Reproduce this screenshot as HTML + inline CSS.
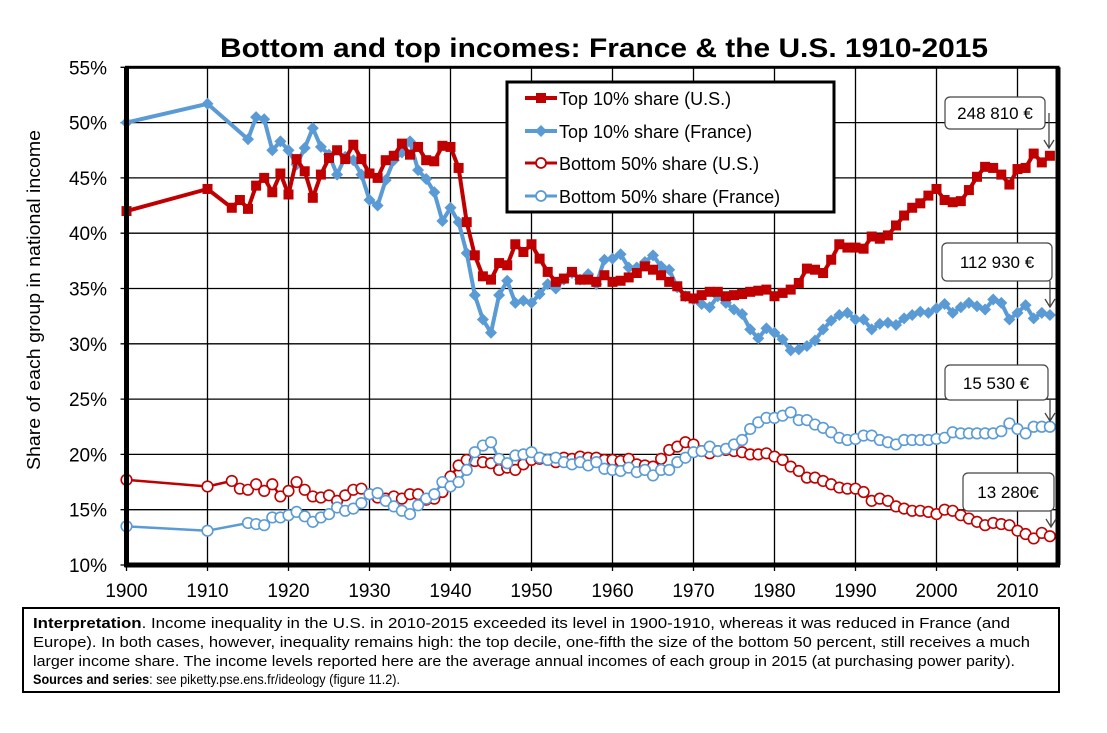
<!DOCTYPE html>
<html><head><meta charset="utf-8"><style>
body{margin:0;background:#fff;}
svg text{font-family:"Liberation Sans",Arial,sans-serif;}
</style></head><body>
<svg id="chart" width="1107" height="728" viewBox="0 0 1107 728" xmlns="http://www.w3.org/2000/svg">
<text x="220" y="57" textLength="768" lengthAdjust="spacingAndGlyphs" font-size="27" font-weight="bold">Bottom and top incomes: France &amp; the U.S. 1910-2015</text>
<text transform="translate(40,300) rotate(-90)" text-anchor="middle" font-size="18" textLength="340" lengthAdjust="spacingAndGlyphs">Share of each group in national income</text>
<g id="grid"></g>
<g id="series"></g>
<g id="axes"></g>
<g>
<rect x="507" y="82" width="327" height="130" fill="#fff" stroke="#000" stroke-width="3"/>
<line x1="525" y1="98" x2="557" y2="98" stroke="#c00000" stroke-width="4"/><rect x="536" y="93" width="10" height="10" fill="#c00000"/>
<text x="559" y="105" font-size="18">Top 10% share (U.S.)</text>
<line x1="525" y1="131" x2="557" y2="131" stroke="#5b9bd5" stroke-width="4"/><path d="M541 125 L547 131 L541 137 L535 131Z" fill="#5b9bd5"/>
<text x="559" y="138" font-size="18">Top 10% share (France)</text>
<line x1="525" y1="163" x2="557" y2="163" stroke="#c00000" stroke-width="3"/><circle cx="541" cy="163" r="5" fill="#fff" stroke="#c00000" stroke-width="1.8"/>
<text x="559" y="170" font-size="18">Bottom 50% share (U.S.)</text>
<line x1="525" y1="196" x2="557" y2="196" stroke="#5b9bd5" stroke-width="3"/><circle cx="541" cy="196" r="5" fill="#fff" stroke="#5b9bd5" stroke-width="1.8"/>
<text x="559" y="203" font-size="18">Bottom 50% share (France)</text>
</g>
<g font-size="17">
<rect x="945" y="97" width="100" height="32" rx="5" fill="#fff" stroke="#444" stroke-width="1.2"/>
<text x="995" y="119" text-anchor="middle">248 810 €</text>
<path d="M1049 113 V148 M1044 140 L1049 148 L1054 140" fill="none" stroke="#444" stroke-width="1.3"/>
<rect x="942" y="243" width="110" height="38" rx="5" fill="#fff" stroke="#444" stroke-width="1.2"/>
<text x="997" y="268" text-anchor="middle">112 930 €</text>
<path d="M1050 281 V307 M1045 299 L1050 307 L1055 299" fill="none" stroke="#444" stroke-width="1.3"/>
<rect x="945" y="365" width="103" height="35" rx="5" fill="#fff" stroke="#444" stroke-width="1.2"/>
<text x="996" y="389" text-anchor="middle">15 530 €</text>
<path d="M1050 400 V421 M1045 413 L1050 421 L1055 413" fill="none" stroke="#444" stroke-width="1.3"/>
<rect x="963" y="473" width="91" height="38" rx="5" fill="#fff" stroke="#444" stroke-width="1.2"/>
<text x="1008" y="498" text-anchor="middle">13 280€</text>
<path d="M1051 511 V527 M1046 519 L1051 527 L1056 519" fill="none" stroke="#444" stroke-width="1.3"/>
</g>
<g>
<rect x="23" y="608" width="1036" height="84" fill="#fff" stroke="#000" stroke-width="2"/>
<text x="33" y="628" font-size="15" textLength="977" lengthAdjust="spacingAndGlyphs"><tspan font-weight="bold">Interpretation</tspan>. Income inequality in the U.S. in 2010-2015 exceeded its level in 1900-1910, whereas it was reduced in France (and</text>
<text x="33" y="647" font-size="15" textLength="997" lengthAdjust="spacingAndGlyphs">Europe). In both cases, however, inequality remains high: the top decile, one-fifth the size of the bottom 50 percent, still receives a much</text>
<text x="33" y="666" font-size="15" textLength="982" lengthAdjust="spacingAndGlyphs">larger income share. The income levels reported here are the average annual incomes of each group in 2015 (at purchasing power parity).</text>
<text x="33" y="684" font-size="14" textLength="367" lengthAdjust="spacingAndGlyphs"><tspan font-weight="bold">Sources and series</tspan>: see piketty.pse.ens.fr/ideology (figure 11.2).</text>
</g>
</svg>
<script>
const years = [1900,1910,1913,1914,1915,1916,1917,1918,1919,1920,1921,1922,1923,1924,1925,1926,1927,1928,1929,1930,1931,1932,1933,1934,1935,1936,1937,1938,1939,1940,1941,1942,1943,1944,1945,1946,1947,1948,1949,1950,1951,1952,1953,1954,1955,1956,1957,1958,1959,1960,1961,1962,1963,1964,1965,1966,1967,1968,1969,1970,1971,1972,1973,1974,1975,1976,1977,1978,1979,1980,1981,1982,1983,1984,1985,1986,1987,1988,1989,1990,1991,1992,1993,1994,1995,1996,1997,1998,1999,2000,2001,2002,2003,2004,2005,2006,2007,2008,2009,2010,2011,2012,2013,2014];
const top10US = [42.0,44.0,42.3,43.0,42.2,44.3,45.0,43.7,45.4,43.5,46.7,45.6,43.2,45.3,46.8,47.5,46.7,48.0,46.7,45.4,45.0,46.6,47.0,48.1,47.1,47.8,46.6,46.5,47.9,47.8,45.9,41.0,38.0,36.1,35.8,37.3,37.1,39.0,38.3,39.0,37.7,36.5,35.6,35.9,36.5,35.8,35.8,35.6,36.2,35.6,35.7,36.0,36.4,37.0,36.7,36.2,35.6,35.2,34.3,34.1,34.4,34.7,34.7,34.3,34.4,34.5,34.7,34.8,34.9,34.3,34.6,34.9,35.5,36.8,36.7,36.4,37.6,39.0,38.7,38.7,38.6,39.7,39.5,39.8,40.7,41.6,42.3,42.7,43.4,44.0,43.0,42.8,42.9,43.9,45.1,46.0,45.9,45.3,44.4,45.8,45.9,47.2,46.4,47.0];
const yearsFR = [1900,1910,1915,1916,1917,1918,1919,1920,1921,1922,1923,1924,1925,1926,1927,1928,1929,1930,1931,1932,1933,1934,1935,1936,1937,1938,1939,1940,1941,1942,1943,1944,1945,1946,1947,1948,1949,1950,1951,1952,1953,1954,1955,1956,1957,1958,1959,1960,1961,1962,1963,1964,1965,1966,1967,1968,1969,1970,1971,1972,1973,1974,1975,1976,1977,1978,1979,1980,1981,1982,1983,1984,1985,1986,1987,1988,1989,1990,1991,1992,1993,1994,1995,1996,1997,1998,1999,2000,2001,2002,2003,2004,2005,2006,2007,2008,2009,2010,2011,2012,2013,2014];
const top10FR = [50.0,51.7,48.5,50.5,50.3,47.5,48.3,47.5,46.2,47.7,49.5,47.8,47.1,45.3,46.9,46.6,45.3,43.0,42.5,44.8,46.6,47.3,48.3,45.7,44.9,43.7,41.1,42.3,41.0,38.2,34.4,32.2,31.0,34.4,35.7,33.7,33.9,33.7,34.5,35.4,35.0,35.8,36.4,35.8,36.3,35.4,37.6,37.7,38.1,36.9,36.9,37.4,38.0,37.0,36.7,35.1,34.3,34.0,33.6,33.3,34.3,33.7,33.1,32.7,31.3,30.5,31.4,31.0,30.4,29.4,29.5,29.8,30.3,31.3,32.1,32.6,32.8,32.2,32.2,31.3,31.8,31.9,31.7,32.3,32.6,32.9,32.8,33.2,33.6,32.8,33.3,33.7,33.4,33.1,34.0,33.7,32.2,32.8,33.5,32.3,32.8,32.6];
const bottom50US = [17.7,17.1,17.6,16.9,16.8,17.3,16.7,17.3,16.2,16.7,17.5,16.8,16.2,16.1,16.3,15.8,16.3,16.8,16.9,16.4,16.1,16.0,16.2,16.0,16.4,16.4,15.9,16.0,16.6,18.0,19.0,19.5,19.4,19.3,19.2,18.6,18.8,18.6,19.1,19.5,19.6,19.5,19.3,19.7,19.6,19.8,19.7,19.7,19.5,19.5,19.4,19.6,19.1,19.0,18.9,19.6,20.4,20.7,21.1,20.9,20.3,20.1,20.3,20.4,20.3,20.2,20.0,20.0,20.1,19.8,19.5,18.9,18.5,17.9,17.9,17.6,17.3,17.0,16.9,16.9,16.6,15.8,16.0,15.8,15.3,15.1,14.9,14.9,14.8,14.6,15.0,14.9,14.5,14.2,13.9,13.6,13.8,13.7,13.6,13.1,12.8,12.4,12.9,12.6];
const bottom50FR = [13.5,13.1,13.8,13.7,13.6,14.3,14.3,14.5,14.8,14.4,13.9,14.3,14.6,15.2,14.9,15.1,15.6,16.4,16.5,15.8,15.3,14.9,14.6,15.4,16.0,16.4,17.5,17.1,17.5,18.6,20.2,20.8,21.1,19.6,19.2,19.9,20.0,20.2,19.7,19.5,19.7,19.3,19.1,19.3,19.0,19.3,18.7,18.6,18.5,18.8,18.4,18.6,18.1,18.6,18.6,19.3,19.7,20.2,20.3,20.7,20.3,20.5,20.9,21.3,22.3,22.9,23.3,23.3,23.5,23.8,23.1,23.1,22.7,22.4,22.0,21.5,21.3,21.4,21.7,21.7,21.3,21.1,20.9,21.3,21.3,21.3,21.3,21.4,21.5,22.0,21.9,21.9,21.9,21.9,21.9,22.1,22.8,22.3,21.9,22.5,22.5,22.5];
const yTicks = [10,15,20,25,30,35,40,45,50,55];
const xTicks = [1900,1910,1920,1930,1940,1950,1960,1970,1980,1990,2000,2010];

const NS = "http://www.w3.org/2000/svg";
const L = 126.5, R = 1058, T = 67.3, B = 565;
const x = v => L + (v - 1900) / 115 * (R - L);
const y = v => B - (v - 10) / 45 * (B - T);
function mk(tag, attrs, parent){ const e = document.createElementNS(NS, tag); for (const k in attrs) e.setAttribute(k, attrs[k]); parent.appendChild(e); return e; }
const grid = document.getElementById('grid'), axes = document.getElementById('axes'), ser = document.getElementById('series');
yTicks.forEach(t => {
  const ln = mk('line', {x1: L - 6, x2: R, y1: y(t), y2: y(t), stroke: '#000', 'stroke-width': 1.3}, grid);
  
  
  const tx = mk('text', {x: 107, y: y(t) + 7, 'text-anchor': 'end', 'font-size': 19}, axes);
  tx.textContent = t + '%';
  
  
});
xTicks.forEach(t => {
  const ln = mk('line', {x1: x(t), x2: x(t), y1: T, y2: B + 6, stroke: '#000', 'stroke-width': 1.3}, grid);
  
  
  const tx = mk('text', {x: x(t), y: 597, 'text-anchor': 'middle', 'font-size': 19}, axes);
  tx.textContent = t;
  
  
});
const frame = mk('rect', {x: L, y: T, width: R - L, height: B - T, fill: 'none', stroke: '#000', 'stroke-width': 3}, axes);


const la = mk('line', {x1: L, x2: L, y1: T, y2: B + 2, stroke: '#000', 'stroke-width': 5}, axes);


const ba = mk('line', {x1: L - 2, x2: R + 2, y1: B, y2: B, stroke: '#000', 'stroke-width': 5}, axes);


const ra = mk('line', {x1: R, x2: R, y1: T, y2: B, stroke: '#000', 'stroke-width': 5}, axes);



function drawSeries(xs, vals, color, lw, marker, name){
  const g = mk('g', {}, ser);
  
  
  const pts = xs.map((yr, i) => x(yr).toFixed(1) + ',' + y(vals[i]).toFixed(1)).join(' ');
  const pl = mk('polyline', {points: pts, fill: 'none', stroke: color, 'stroke-width': lw, 'stroke-linejoin': 'round'}, g);
  
  
  xs.forEach((yr, i) => {
    const cx = x(yr), cy = y(vals[i]);
    let m;
    if (marker === 'square') m = mk('rect', {x: cx - 5, y: cy - 5, width: 10, height: 10, fill: color}, g);
    else if (marker === 'diamond') m = mk('path', {d: `M${cx} ${cy-6} L${cx+6} ${cy} L${cx} ${cy+6} L${cx-6} ${cy}Z`, fill: color}, g);
    else m = mk('circle', {cx: cx, cy: cy, r: 5.3, fill: '#fff', stroke: color, 'stroke-width': 1.6}, g);
    
    
  });
}
drawSeries(years, bottom50US, '#c00000', 2.5, 'circle', 'bottom50-us-series');
drawSeries(yearsFR, bottom50FR, '#5b9bd5', 2.5, 'circle', 'bottom50-france-series');
drawSeries(yearsFR, top10FR, '#5b9bd5', 4, 'diamond', 'top10-france-series');
drawSeries(years, top10US, '#c00000', 4, 'square', 'top10-us-series');
</script>
</body></html>
